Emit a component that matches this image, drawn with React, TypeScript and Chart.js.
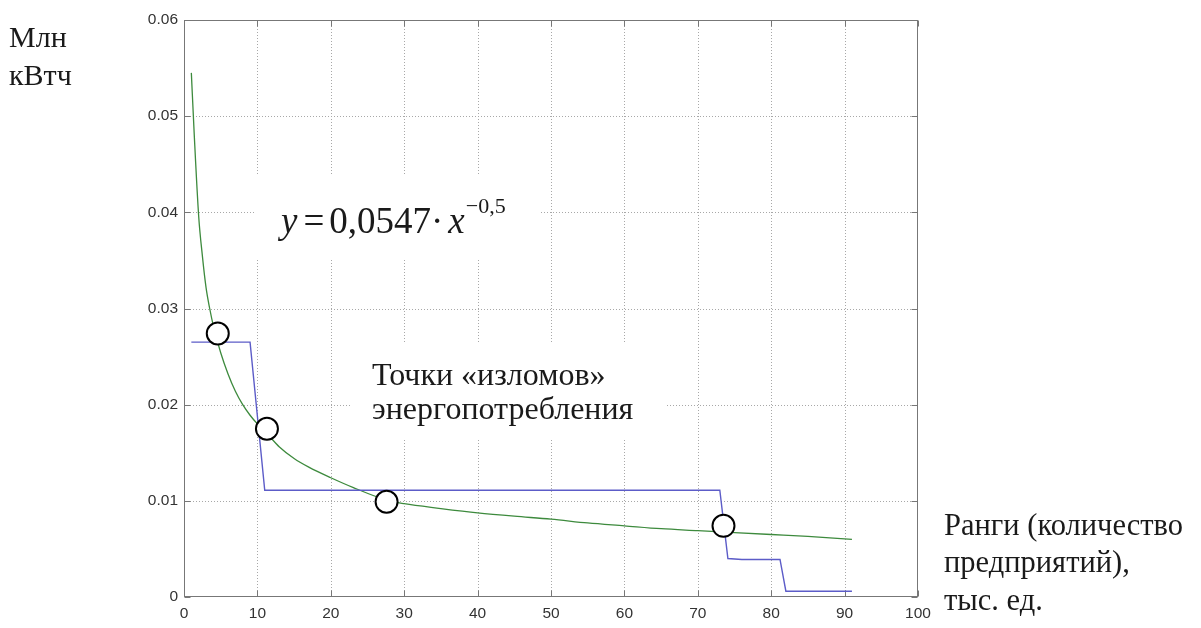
import React, { useEffect, useRef } from "react";
import { Chart, registerables } from "chart.js";

Chart.register(...registerables);

// Fitted curve y = 0.0547·x^-0.5
const curveX = [1, 1.4, 2, 2.5, 3, 3.5, 4, 5, 6, 7, 8, 9, 10, 11.3, 13, 15, 17, 20, 23, 27.5, 30, 35, 40, 45, 50, 55, 60, 65, 70, 75, 80, 85, 91];
const curveY = [0.0545, 0.048, 0.0396, 0.0355, 0.0322, 0.03, 0.0282, 0.0254, 0.0232, 0.0214, 0.02, 0.0189, 0.018, 0.017, 0.0156, 0.0144, 0.0135, 0.0124, 0.0114, 0.0101, 0.0097, 0.0092, 0.00875, 0.0084, 0.0081, 0.0077, 0.0074, 0.0071, 0.0069, 0.0067, 0.0065, 0.0063, 0.006];

// Step line (actual consumption)
const stepX = [1, 9, 11, 73, 74.1, 76, 81.2, 82, 91];
const stepY = [0.0265, 0.0265, 0.0111, 0.0111, 0.004, 0.0039, 0.0039, 0.0006, 0.0006];

// Break points (circles)
const breakX = [4.6, 11.3, 27.6, 73.5];
const breakY = [0.0274, 0.0175, 0.0099, 0.0074];

const xTicks = [0, 10, 20, 30, 40, 50, 60, 70, 80, 90, 100];
const yTicks = [0, 0.01, 0.02, 0.03, 0.04, 0.05, 0.06];

const yTitle = ["Млн", "кВтч"];
const xTitle = ["Ранги (количество", "предприятий),", "тыс. ед."];
const noteLines = ["Точки «изломов»", "энергопотребления"];

const SERIF = '"Liberation Serif", "Times New Roman", serif';

const decor = {
  id: "decor",
  beforeDatasetsDraw(chart: any) {
    const { ctx, chartArea: a, scales } = chart;
    const xs = scales.x;
    const ys = scales.y;
    ctx.save();
    // dotted grid
    ctx.strokeStyle = "#a8a8a8";
    ctx.lineWidth = 1;
    ctx.setLineDash([1, 2]);
    xTicks.slice(1, -1).forEach((t) => {
      const px = Math.round(xs.getPixelForValue(t)) + 0.5;
      ctx.beginPath();
      ctx.moveTo(px, a.top);
      ctx.lineTo(px, a.bottom);
      ctx.stroke();
    });
    yTicks.slice(1, -1).forEach((t) => {
      const py = Math.round(ys.getPixelForValue(t)) + 0.5;
      ctx.beginPath();
      ctx.moveTo(a.left, py);
      ctx.lineTo(a.right, py);
      ctx.stroke();
    });
    ctx.setLineDash([]);

    // white boxes behind the in-plot texts
    ctx.fillStyle = "#ffffff";
    ctx.fillRect(255, 175, 285, 85);
    ctx.fillRect(350, 343, 315, 97);

    // box and inward ticks
    ctx.strokeStyle = "#777777";
    ctx.lineWidth = 1;
    const L = Math.round(a.left) + 0.5;
    const R = Math.round(a.right) - 0.5;
    const T = Math.round(a.top) + 0.5;
    const B = Math.round(a.bottom) - 0.5;
    ctx.strokeRect(L, T, R - L, B - T);
    const tl = 6;
    ctx.beginPath();
    xTicks.forEach((t) => {
      const px = Math.round(xs.getPixelForValue(t)) + 0.5;
      ctx.moveTo(px, B);
      ctx.lineTo(px, B - tl);
      ctx.moveTo(px, T);
      ctx.lineTo(px, T + tl);
    });
    yTicks.forEach((t) => {
      const py = Math.round(ys.getPixelForValue(t)) + 0.5;
      ctx.moveTo(L, py);
      ctx.lineTo(L + tl, py);
      ctx.moveTo(R, py);
      ctx.lineTo(R - tl, py);
    });
    ctx.stroke();

    // formula (equation spacing)
    ctx.fillStyle = "#1a1a1a";
    ctx.textBaseline = "alphabetic";
    ctx.textAlign = "left";
    const base = 233;
    let cx = 281;
    ctx.font = `italic 37px ${SERIF}`;
    ctx.fillText("y", cx, base);
    cx += ctx.measureText("y").width + 6;
    ctx.font = `37px ${SERIF}`;
    ctx.fillText("=", cx, base);
    cx += ctx.measureText("=").width + 5;
    ctx.fillText("0,0547", cx, base);
    cx += ctx.measureText("0,0547").width;
    ctx.fillText("·", cx, base);
    cx += ctx.measureText("·").width + 5;
    ctx.font = `italic 37px ${SERIF}`;
    ctx.fillText("x", cx, base);
    cx += ctx.measureText("x").width + 1;
    ctx.font = `22px ${SERIF}`;
    ctx.fillText("−0,5", cx, 213);

    // annotation
    ctx.font = `32px ${SERIF}`;
    ctx.fillText(noteLines[0], 372, 385);
    ctx.fillText(noteLines[1], 372, 419);

    // axis titles outside the plot
    ctx.font = `30px ${SERIF}`;
    ctx.fillText(yTitle[0], 9, 47);
    ctx.fillText(yTitle[1], 9, 85);
    ctx.font = `30.5px ${SERIF}`;
    ctx.fillText(xTitle[0], 944, 535);
    ctx.fillText(xTitle[1], 944, 572);
    ctx.fillText(xTitle[2], 944, 610);
    ctx.restore();
  },
};

export default function App() {
  const ref = useRef<HTMLCanvasElement | null>(null);
  useEffect(() => {
    if (!ref.current) return;
    const chart = new Chart(ref.current, {
      type: "scatter",
      data: {
        datasets: [
          {
            label: "curve",
            data: curveX.map((x, i) => ({ x, y: curveY[i] })),
            showLine: true,
            borderColor: "#3d8a3d",
            borderWidth: 1.3,
            pointRadius: 0,
            cubicInterpolationMode: "monotone",
            order: 3,
          },
          {
            label: "step",
            data: stepX.map((x, i) => ({ x, y: stepY[i] })),
            showLine: true,
            borderColor: "#5c5cc8",
            borderWidth: 1.4,
            pointRadius: 0,
            order: 2,
          },
          {
            label: "breaks",
            data: breakX.map((x, i) => ({ x, y: breakY[i] })),
            showLine: false,
            pointRadius: 11,
            pointBackgroundColor: "#ffffff",
            pointBorderColor: "#000000",
            pointBorderWidth: 2,
            order: 1,
          },
        ],
      },
      options: {
        animation: false,
        responsive: false,
        maintainAspectRatio: false,
        devicePixelRatio: 1,
        layout: { padding: { left: 0, top: 20, right: 283, bottom: 0 } },
        plugins: { legend: { display: false }, tooltip: { enabled: false } },
        scales: {
          x: {
            type: "linear",
            min: 0,
            max: 100,
            afterFit: (s: any) => {
              s.height = 31;
            },
            afterBuildTicks: (s: any) => {
              s.ticks = xTicks.map((v) => ({ value: v }));
            },
            grid: { display: false, drawTicks: false, tickLength: 0 },
            border: { display: false },
            ticks: {
              padding: 7,
              color: "#333333",
              font: { family: '"Liberation Sans", Arial, sans-serif', size: 15.5 },
              maxRotation: 0,
              autoSkip: false,
              callback: (v: any) => String(v),
            },
          },
          y: {
            type: "linear",
            min: 0,
            max: 0.06,
            afterFit: (s: any) => {
              s.width = 184;
            },
            afterBuildTicks: (s: any) => {
              s.ticks = yTicks.map((v) => ({ value: v }));
            },
            grid: { display: false, drawTicks: false, tickLength: 0 },
            border: { display: false },
            ticks: {
              padding: 6,
              color: "#333333",
              font: { family: '"Liberation Sans", Arial, sans-serif', size: 15.5 },
              autoSkip: false,
              callback: (v: any) => (v === 0 ? "0" : Number(v).toFixed(2)),
            },
          },
        },
      },
      plugins: [decor],
    });
    return () => chart.destroy();
  }, []);
  return (
    <div style={{ position: "absolute", left: 0, top: 0, width: 1201, height: 628, background: "#fff" }}>
      <canvas ref={ref} width={1201} height={628} style={{ display: "block" }} />
    </div>
  );
}
